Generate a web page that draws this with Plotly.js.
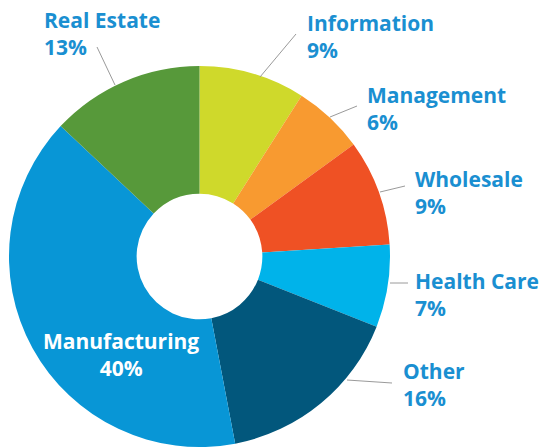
<!DOCTYPE html>
<html>
<head>
<meta charset="utf-8">
<script src="https://cdn.plot.ly/plotly-3.0.1.min.js"></script>
<style>
  html, body { margin: 0; padding: 0; background: #fff; }
  #chart { width: 543px; height: 448px; }
</style>
</head>
<body>
<div id="chart"></div>
<script>
'use strict';

// secteurs, dans le sens horaire depuis midi
var sectors = ['Information', 'Management', 'Wholesale', 'Health Care', 'Other', 'Manufacturing', 'Real Estate'];
var shares = [9, 6, 9, 7, 16, 40, 13];
var colors = ['#cfd92b', '#f89a30', '#ef5124', '#00b3ea', '#02577c', '#0896d6', '#57993a'];

// position des étiquettes (pixels) et des traits de rappel
var labelPos = {
  'Information':   {x: 305, y: 36, anchor: 'left'},
  'Management':    {x: 365, y: 109, anchor: 'left'},
  'Wholesale':     {x: 413, y: 192, anchor: 'left'},
  'Health Care':   {x: 413, y: 294, anchor: 'left'},
  'Other':         {x: 401, y: 384, anchor: 'left'},
  'Manufacturing': {x: 121, y: 354, anchor: 'center'},
  'Real Estate':   {x: 42,  y: 34, anchor: 'left'}
};
var leaders = {
  'Information': [296, 34, 260, 77],
  'Management':  [357, 106, 330, 117],
  'Wholesale':   [405, 186, 380, 192],
  'Health Care': [408, 283, 390, 283],
  'Other':       [392, 383, 347, 380],
  'Real Estate': [97, 47, 115, 85]
};

var W = 543, H = 448;
function px(x) { return x / W; }
function py(y) { return 1 - y / H; }

var trace = {
  type: 'pie',
  labels: sectors,
  values: shares,
  sort: false,
  direction: 'clockwise',
  rotation: 0,
  hole: 0.33,
  textinfo: 'none',
  hoverinfo: 'label+percent',
  marker: { colors: colors, line: { width: 0 } },
  domain: { x: [px(9), px(390)], y: [py(447), py(66)] },
  showlegend: false
};

var total = shares.reduce(function (a, b) { return a + b; }, 0);

var annotations = sectors.map(function (s, i) {
  var p = labelPos[s];
  var pct = Math.round(shares[i] / total * 100);
  return {
    xref: 'paper', yref: 'paper',
    x: px(p.x), y: py(p.y),
    xanchor: p.anchor, yanchor: 'middle', align: p.anchor,
    text: s + '<br>' + pct + '%',
    showarrow: false,
    font: { family: 'Open Sans', size: 21, color: s === 'Manufacturing' ? '#ffffff' : '#1a8fd1', weight: 700 }
  };
});

var shapes = Object.keys(leaders).map(function (s) {
  var l = leaders[s];
  return {
    type: 'line', xref: 'paper', yref: 'paper',
    x0: px(l[0]), y0: py(l[1]), x1: px(l[2]), y1: py(l[3]),
    line: { color: '#9a9a9a', width: 1 }
  };
});

var layout = {
  width: W, height: H,
  margin: { l: 0, r: 0, t: 0, b: 0 },
  paper_bgcolor: '#ffffff',
  annotations: annotations,
  shapes: shapes
};

Plotly.newPlot('chart', [trace], layout, { displayModeBar: false, staticPlot: true });
</script>
</body>
</html>
